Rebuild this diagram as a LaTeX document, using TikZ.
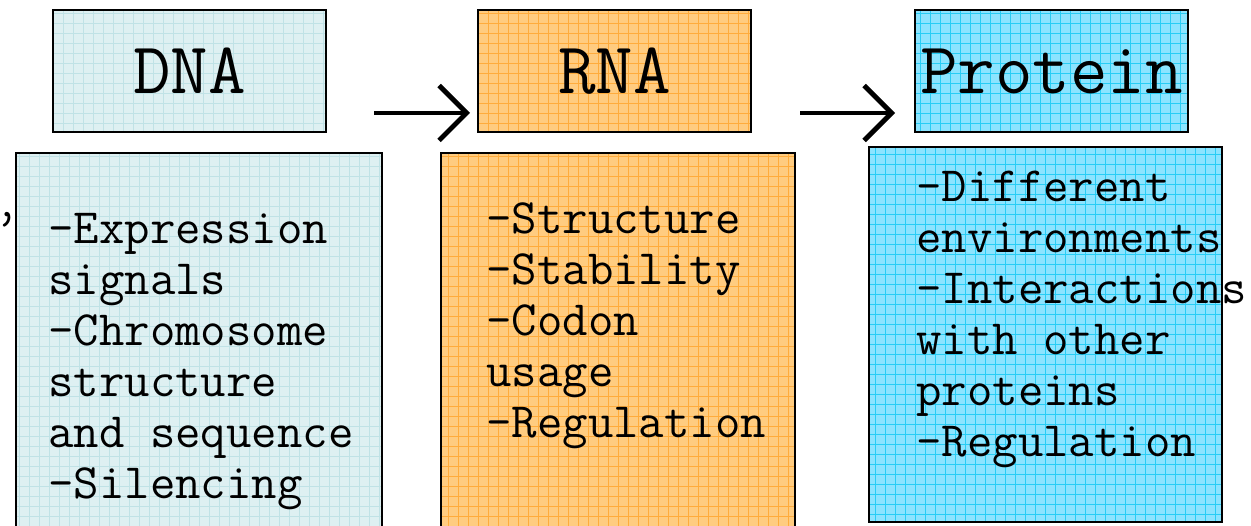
\documentclass[tikz,border=0pt]{standalone}
\usepackage{fontspec}
\usetikzlibrary{arrows.meta,positioning}
\definecolor{dnaFill}  {RGB}{222,240,242}
\definecolor{dnaGrid}  {RGB}{192,226,230}
\definecolor{rnaFill}  {RGB}{255,204,128}
\definecolor{rnaGrid}  {RGB}{255,172, 60}
\definecolor{protFill} {RGB}{140,228,255}
\definecolor{protGrid} {RGB}{ 40,205,245}
\tikzset{
  graphbox/.style={draw=black,fill=#1Fill,inner sep=0pt,
    path picture={\draw[#1Grid,line width=0.5pt]
      (path picture bounding box.south west) grid[step=0.2cm]
      (path picture bounding box.north east);}},
  headbox/.style={graphbox=#1,line width=0.9pt,minimum width=5.46cm,
    minimum height=2.44cm,font=\ttfamily\fontsize{41.5}{46}\selectfont},
  listbox/.style={graphbox=#1,line width=1.1pt},
  listtext/.style={font=\ttfamily\fontsize{28.1}{29.1}\selectfont,
    align=left,inner sep=0pt,anchor=base west},
  flowarrow/.style={line width=2.8pt,
    -{Straight Barb[length=0.55cm,width=1.1cm]}}
}
\begin{document}
\begin{tikzpicture}[x=0.02cm,y=-0.02cm]
\useasboundingbox (0,0) rectangle (1251,526);
\clip (0,0) rectangle (1251,526);
% Header boxes: DNA -> RNA -> Protein
\foreach \name/\x/\lab in {dna/189.5/DNA, rna/614.5/RNA, prot/1051.5/Protein}{
  \node[headbox=\name] (\name) at (\x,71) {\lab};
}
% Detail boxes (the lower two run past the page edge)
\node[listbox=dna,minimum width=7.32cm,minimum height=7.74cm]
  (dnalist) at (199,346.5) {};
\node[listbox=rna,minimum width=7.08cm,minimum height=7.74cm]
  (rnalist) at (618,346.5) {};
\node[listbox=prot,minimum width=7.06cm,minimum height=7.5cm]
  (protlist) at (1045.5,334.5) {};
% Box texts (anchored at the baseline of the last line)
\node[listtext] (dnatext) at (48,499)
  {-Expression\\signals\\-Chromosome\\structure\\and sequence\\-Silencing};
\node[listtext] (rnatext) at (486,438)
  {-Structure\\-Stability\\-Codon\\usage\\-Regulation};
\node[listtext] (prottext) at (916,457)
  {-Different\\environments\\-Interactions\\with other\\proteins\\-Regulation};
\node[listtext,anchor=base] (stray) at (7,243) {’};
% Arrows between the headers
\coordinate (dnaout)  at (374,113);
\coordinate (rnain)   at (470,113);
\coordinate (rnaout)  at (800,113);
\coordinate (protin)  at (895,113);
\draw[flowarrow] (dnaout) -- (rnain);
\draw[flowarrow] (rnaout) -- (protin);
\end{tikzpicture}
\end{document}
